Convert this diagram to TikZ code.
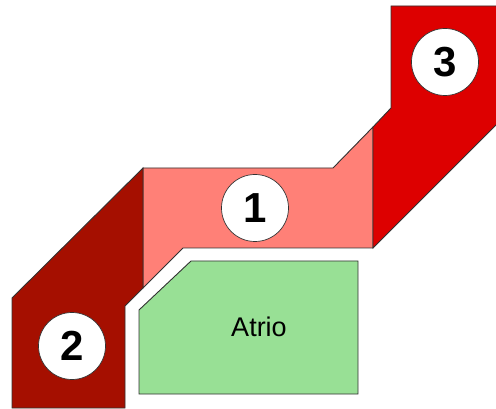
\documentclass[tikz,border=0pt]{standalone}
\usepackage{fontspec}
\setmainfont{Liberation Sans}
\definecolor{roomA}{RGB}{255,128,119}
\definecolor{roomB}{RGB}{165,15,0}
\definecolor{roomC}{RGB}{221,0,0}
\definecolor{atrio}{RGB}{152,224,149}
\definecolor{edge}{RGB}{50,50,50}
\begin{document}
\begin{tikzpicture}[x=1pt,y=-1pt,
  room/.style={draw=edge,line width=0.9pt,line join=miter},
  badge/.style={circle,draw=edge,line width=0.7pt,fill=white,minimum size=67pt,inner sep=0pt,
    font=\fontsize{42}{42}\selectfont\bfseries},
  label/.style={font=\fontsize{27}{27}\selectfont}]
\useasboundingbox (0,0) rectangle (496,409);
\clip (0,0) rectangle (496,409);
% room 1
\filldraw[room,fill=roomA] (143,168) -- (333,168) -- (373,127) -- (373,248) -- (183,248) -- (143,288) -- cycle;
% room 2
\filldraw[room,fill=roomB] (143,168) -- (12,298) -- (12,408) -- (125,408) -- (125,306) -- (143,288) -- cycle;
% room 3
\filldraw[room,fill=roomC] (391,6) -- (510,6) -- (510,111) -- (373,248) -- (373,127) -- (391,108) -- cycle;
% atrio
\filldraw[room,fill=atrio] (191,261) -- (358,261) -- (358,394) -- (139,394) -- (139,310) -- cycle;
\node[label] (atr) at (259,327) {Atrio};
\node[badge] (n1) at (255,208) {1};
\node[badge] (n2) at (72,346) {2};
\node[badge] (n3) at (445,62) {3};
\end{tikzpicture}
\end{document}
